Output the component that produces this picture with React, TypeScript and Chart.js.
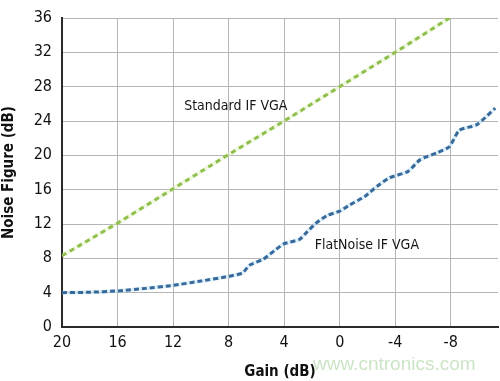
import { useEffect, useRef } from "react";
import { Chart, registerables } from "chart.js";

Chart.register(...registerables);

const FONT = "'Liberation Sans Narrow', 'DejaVu Sans Condensed', 'Liberation Sans', sans-serif";

const gainTicks = [20, 16, 12, 8, 4, 0, -4, -8];
const nfTicks = [0, 4, 8, 12, 16, 20, 24, 28, 32, 36];

const standardGain = [20, 16, 12, 8, 4, 0, -4, -7.9];
const standardNF = [8.3, 12.1, 16.1, 20.1, 24.0, 28.0, 32.0, 36.0];

const flatGain = [20, 18, 16, 14, 12, 10, 8, 7, 6.5, 5.5, 4.7, 4.0, 2.9, 2.4, 1.7, 0.9, 0, -0.7, -1.8, -2.7, -3.6, -4.9, -5.8, -7.0, -7.9, -8.6, -9.9, -11.2];
const flatNF = [4.0, 4.05, 4.2, 4.5, 4.85, 5.35, 5.9, 6.3, 7.2, 7.9, 8.9, 9.7, 10.2, 11.0, 12.1, 13.0, 13.5, 14.2, 15.2, 16.4, 17.4, 18.1, 19.5, 20.3, 21.0, 22.9, 23.6, 25.5];

const annotationTexts = ["Standard IF VGA", "FlatNoise IF VGA"];
const annotationGain = [11.2, 1.8];
const annotationNF = [25.7, 9.5];

const toPoints = (xs: number[], ys: number[]) => xs.map((x, i) => ({ x, y: ys[i] }));

export default function App() {
  const ref = useRef<HTMLCanvasElement | null>(null);

  useEffect(() => {
    if (!ref.current) return;
    const labelPlugin = {
      id: "annotLabels",
      afterDraw(chart: any) {
        const { ctx, scales } = chart;
        const x = scales.x;
        const y = scales.y;
        ctx.save();
        ctx.font = `14px ${FONT}`;
        ctx.fillStyle = "#151515";
        ctx.textBaseline = "middle";
        ctx.textAlign = "left";
        annotationTexts.forEach((t, i) => {
          ctx.fillText(t, x.getPixelForValue(annotationGain[i]), y.getPixelForValue(annotationNF[i]));
        });
        ctx.font = "19px 'Liberation Sans', Arial, sans-serif";
        ctx.fillStyle = "rgba(170, 210, 160, 0.6)";
        ctx.fillText("www.cntronics.com", 313, 365);
        ctx.restore();
      },
    };

    const chart = new Chart(ref.current, {
      type: "line",
      data: {
        datasets: [
          {
            data: toPoints(standardGain, standardNF),
            borderColor: "#8fbf4c",
            borderWidth: 3,
            borderDash: [5, 4],
            pointRadius: 0,
            fill: false,
            tension: 0,
            order: 1,
          },
          {
            data: toPoints(standardGain, standardNF),
            borderColor: "rgba(225, 240, 190, 0.45)",
            borderWidth: 4,
            pointRadius: 0,
            fill: false,
            tension: 0,
            order: 2,
          },
          {
            data: toPoints(flatGain, flatNF),
            borderColor: "#37699a",
            borderWidth: 3,
            borderDash: [5, 3],
            pointRadius: 0,
            fill: false,
            tension: 0.2,
            order: 1,
          },
          {
            data: toPoints(flatGain, flatNF),
            borderColor: "rgba(190, 225, 245, 0.5)",
            borderWidth: 4,
            pointRadius: 0,
            fill: false,
            tension: 0.2,
            order: 2,
          },
        ],
      },
      options: {
        animation: false,
        responsive: false,
        maintainAspectRatio: false,
        layout: { padding: { top: 9, right: 2, left: 0, bottom: 0 } },
        plugins: { legend: { display: false }, tooltip: { enabled: false } },
        scales: {
          x: {
            type: "linear",
            reverse: true,
            min: -11.4,
            max: 20,
            afterBuildTicks: (s: any) => {
              s.ticks = gainTicks.map((v) => ({ value: v }));
            },
            afterFit: (s: any) => {
              s.height = 54;
            },
            grid: { color: "#b5b5b5", lineWidth: 1, drawTicks: false },
            border: { color: "#2a2a2a", width: 2 },
            ticks: {
              autoSkip: false,
              maxRotation: 0,
              padding: 8,
              color: "#111",
              font: { family: FONT, size: 16, lineHeight: 1 },
              callback: (v: any) => String(v),
            },
            title: {
              display: true,
              text: "Gain (dB)",
              color: "#111",
              font: { family: FONT, size: 15, weight: "bold" },
              padding: { top: 0, bottom: 0 },
            },
          },
          y: {
            type: "linear",
            min: 0,
            max: 36,
            afterBuildTicks: (s: any) => {
              s.ticks = nfTicks.map((v) => ({ value: v }));
            },
            afterFit: (s: any) => {
              s.width = 62;
            },
            grid: { color: "#b5b5b5", lineWidth: 1, drawTicks: false },
            border: { color: "#2a2a2a", width: 2 },
            ticks: {
              autoSkip: false,
              padding: 10,
              color: "#111",
              font: { family: FONT, size: 16, lineHeight: 1 },
              callback: (v: any) => String(v),
            },
            title: {
              display: true,
              text: "Noise Figure (dB)",
              color: "#111",
              font: { family: FONT, size: 15, weight: "bold" },
              padding: { top: 0, bottom: 0 },
            },
          },
        },
      },
      plugins: [labelPlugin],
    } as any);
    return () => chart.destroy();
  }, []);

  return (
    <div style={{ position: "absolute", left: 0, top: 0, width: 500, height: 381, background: "#fff" }}>
      <canvas ref={ref} width={500} height={381} style={{ width: 500, height: 381 }} />
    </div>
  );
}
